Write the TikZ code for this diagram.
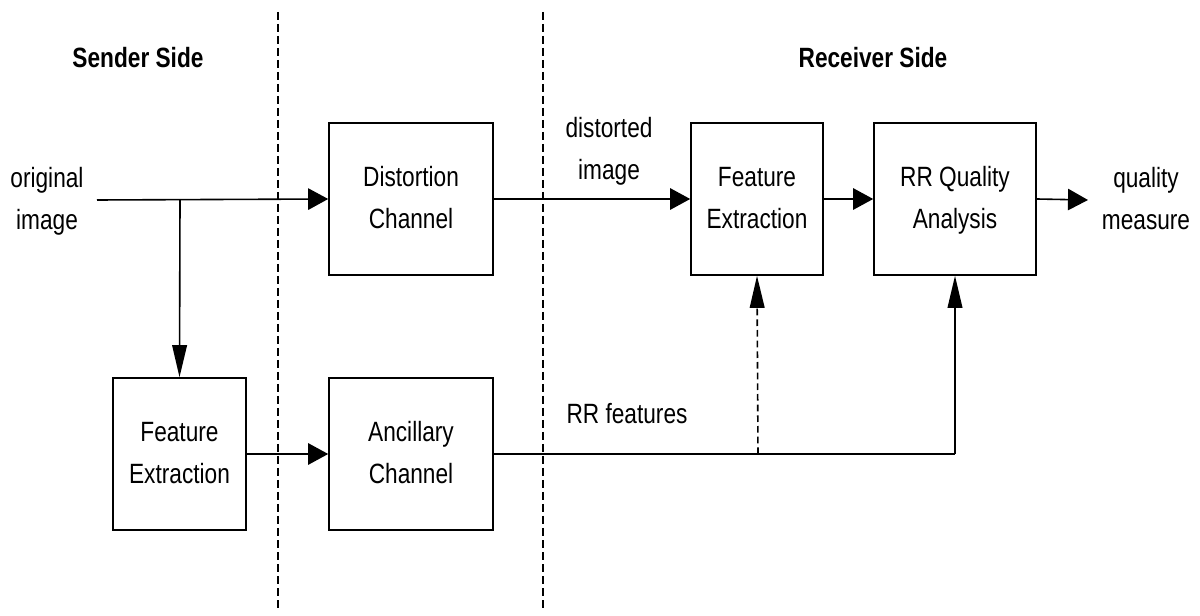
\documentclass[tikz,border=0pt]{standalone}
\usepackage{fontspec}
\setmainfont{Liberation Sans}
\usepackage{graphicx}
\usetikzlibrary{arrows.meta}
\newcommand{\twol}[2]{\scalebox{1}[1.23]{\begin{tabular}{@{}c@{}}#1\\#2\end{tabular}}}
\newcommand{\onel}[1]{\scalebox{1}[1.23]{#1}}
\begin{document}
\begin{tikzpicture}[x=0.75pt,y=-0.75pt,
  every node/.style={font=\fontsize{17}{25.6}\selectfont},
  blk/.style={draw,line width=1.2pt,inner sep=0pt,minimum height=114pt},
  lbl/.style={inner sep=0pt},
  hd/.style={inner sep=0pt,font=\fontsize{17}{25.6}\selectfont\bfseries},
  conn/.style={line width=1.2pt},
  harr/.style={conn,-{Triangle[length=15pt,width=16pt]}},
  varr/.style={conn,-{Triangle[length=24pt,width=11pt]}},
  sep/.style={line width=0.8pt,dash pattern=on 6pt off 3pt}]
\useasboundingbox (0,0) rectangle (1200,616);
% separators
\coordinate (s1t) at (278,12); \coordinate (s1b) at (278,608);
\coordinate (s2t) at (543,12); \coordinate (s2b) at (543,608);
\draw[sep] (s1t) -- (s1b);
\draw[sep] (s2t) -- (s2b);
% headings
\node[hd] (sender) at (138,58) {\onel{Sender Side}};
\node[hd] (receiver) at (873,58) {\onel{Receiver Side}};
% blocks
\node[blk,minimum width=123pt] (dist) at (411,199) {\twol{Distortion}{Channel}};
\node[blk,minimum width=99pt] (fer) at (757,199) {\twol{Feature}{Extraction}};
\node[blk,minimum width=121.5pt] (rr) at (955,199) {\twol{RR Quality}{Analysis}};
\node[blk,minimum width=99.75pt] (fes) at (179.5,454) {\twol{Feature}{Extraction}};
\node[blk,minimum width=123pt] (anc) at (411,454) {\twol{Ancillary}{Channel}};
% labels
\node[lbl] (orig) at (47,200) {\twol{original}{image}};
\node[lbl] (dimg) at (609,150) {\twol{distorted}{image}};
\node[lbl] (qm) at (1146,200) {\twol{quality}{measure}};
\node[lbl] (rrf) at (627,414) {\onel{RR features}};
% coordinates
\coordinate (in) at (97,200);
\coordinate (br) at (180,200);
\coordinate (out) at (1088,200);
\coordinate (dbr) at (758,454);
\coordinate (corner) at (955,454);
% connectors
\draw[harr] (in) -- (dist.west);
\draw[varr] (br) -- (fes.north);
\draw[harr] (dist.east) -- (fer.west);
\draw[harr] (fer.east) -- (rr.west);
\draw[harr] (rr.east) -- (out);
\draw[harr] (fes.east) -- (anc.west);
\draw[conn] (anc.east) -- (corner);
\draw[varr] (corner) -- (rr.south);
\draw[varr,dash pattern=on 5pt off 3pt] (dbr) -- (fer.south);
\end{tikzpicture}
\end{document}
